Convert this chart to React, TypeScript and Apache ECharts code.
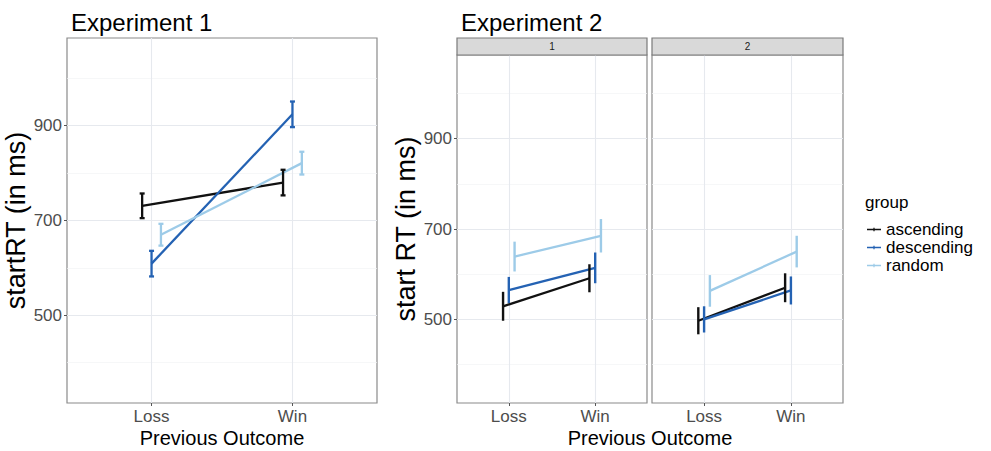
import React, { useEffect, useRef } from "react";
import * as echarts from "echarts";

// Categories and groups
const outcomes = ["Loss", "Win"];
const groups = ["ascending", "descending", "random"];
const groupColors = ["#111111", "#2462b3", "#9dcbe8"];

// Axis ticks (ms)
const yMajor = [500, 700, 900];
const yMinor = [400, 600, 800, 1000];

// Experiment 1: mean start RT and standard error, [Loss, Win]
const exp1AscendingMean = [731, 780];
const exp1AscendingSe = [26, 27];
const exp1DescendingMean = [609, 924];
const exp1DescendingSe = [27, 27];
const exp1RandomMean = [670, 821];
const exp1RandomSe = [23, 24];

// Experiment 2, facet 1
const exp2f1AscendingMean = [529, 591];
const exp2f1AscendingSe = [32, 31];
const exp2f1DescendingMean = [565, 614];
const exp2f1DescendingSe = [29, 34];
const exp2f1RandomMean = [639, 685];
const exp2f1RandomSe = [33, 37];

// Experiment 2, facet 2
const exp2f2AscendingMean = [497, 570];
const exp2f2AscendingSe = [30, 32];
const exp2f2DescendingMean = [500, 564];
const exp2f2DescendingSe = [29, 31];
const exp2f2RandomMean = [563, 650];
const exp2f2RandomSe = [35, 35];

const FONT = "Liberation Sans";
const Y_MIN = 315;
const Y_MAX = 1085;
const DODGE = 0.2;

type Panel = {
  means: number[][];
  ses: number[][];
  grid: { left: number; top: number; width: number; height: number };
  caps: boolean;
  showYLabels: boolean;
  yName: string;
};

const panels: Panel[] = [
  {
    means: [exp1AscendingMean, exp1DescendingMean, exp1RandomMean],
    ses: [exp1AscendingSe, exp1DescendingSe, exp1RandomSe],
    grid: { left: 67, top: 38, width: 310, height: 365 },
    caps: true,
    showYLabels: true,
    yName: "startRT (in ms)",
  },
  {
    means: [exp2f1AscendingMean, exp2f1DescendingMean, exp2f1RandomMean],
    ses: [exp2f1AscendingSe, exp2f1DescendingSe, exp2f1RandomSe],
    grid: { left: 457, top: 55, width: 190, height: 348 },
    caps: false,
    showYLabels: true,
    yName: "start RT (in ms)",
  },
  {
    means: [exp2f2AscendingMean, exp2f2DescendingMean, exp2f2RandomMean],
    ses: [exp2f2AscendingSe, exp2f2DescendingSe, exp2f2RandomSe],
    grid: { left: 652, top: 55, width: 191, height: 348 },
    caps: false,
    showYLabels: false,
    yName: "",
  },
];

const facetLabels = ["1", "2"];

function dodgeOffset(g: number) {
  return (g - (groups.length - 1) / 2) * (DODGE / groups.length);
}

function errorBarRenderer(color: string, caps: boolean, width: number) {
  return (params: any, api: any) => {
    const x = api.value(0);
    const lo = api.value(1);
    const hi = api.value(2);
    const top = api.coord([x, hi]);
    const bot = api.coord([x, lo]);
    const style = { stroke: color, lineWidth: width };
    const children: any[] = [
      { type: "line", shape: { x1: top[0], y1: top[1], x2: bot[0], y2: bot[1] }, style },
    ];
    if (caps) {
      const c = 2.5;
      children.push(
        { type: "line", shape: { x1: top[0] - c, y1: top[1], x2: top[0] + c, y2: top[1] }, style },
        { type: "line", shape: { x1: bot[0] - c, y1: bot[1], x2: bot[0] + c, y2: bot[1] }, style }
      );
    }
    return { type: "group", children };
  };
}

function buildOption() {
  const grids: any[] = [];
  const xAxes: any[] = [];
  const yAxes: any[] = [];
  const series: any[] = [];

  panels.forEach((p, i) => {
    grids.push({
      ...p.grid,
      show: true,
      backgroundColor: "#ffffff",
      borderColor: "#8a8a8a",
      borderWidth: 1.2,
      containLabel: false,
    });
    xAxes.push({
      type: "value",
      gridIndex: i,
      min: 0.4,
      max: 2.6,
      axisLine: { show: false },
      splitLine: { show: false },
      axisTick: { show: true, customValues: [1, 2], length: 3, lineStyle: { color: "#555" } },
      axisLabel: {
        customValues: [1, 2],
        formatter: (v: number) => outcomes[Math.round(v) - 1] ?? "",
        fontFamily: FONT,
        fontSize: 17,
        color: "#4d4d4d",
        margin: 5,
      },
    });
    yAxes.push({
      type: "value",
      gridIndex: i,
      min: Y_MIN,
      max: Y_MAX,
      axisLine: { show: false },
      splitLine: { show: false },
      axisTick: {
        show: p.showYLabels,
        customValues: yMajor,
        length: 3,
        lineStyle: { color: "#555" },
      },
      axisLabel: {
        show: p.showYLabels,
        customValues: yMajor,
        fontFamily: FONT,
        fontSize: 17,
        color: "#4d4d4d",
        margin: 5,
      },
      name: p.yName,
      nameLocation: "middle",
      nameRotate: 90,
      nameGap: 33,
      nameTextStyle: { fontFamily: FONT, fontSize: 27, color: "#000" },
    });

    // panel grid lines
    const minorStyle = { color: "#f2f3f5", width: 0.7, type: "solid" };
    const majorStyle = { color: "#e6e9ee", width: 1.1, type: "solid" };
    series.push({
      type: "line",
      xAxisIndex: i,
      yAxisIndex: i,
      data: [],
      silent: true,
      z: 0,
      markLine: {
        silent: true,
        z: 1,
        symbol: ["none", "none"],
        label: { show: false },
        emphasis: { disabled: true },
        data: [
          ...yMinor.map((v) => ({ yAxis: v, lineStyle: minorStyle })),
          ...yMajor.map((v) => ({ yAxis: v, lineStyle: majorStyle })),
          ...[1, 2].map((v) => ({ xAxis: v, lineStyle: majorStyle })),
        ],
      },
    });

    groups.forEach((g, gi) => {
      const off = dodgeOffset(gi);
      const color = groupColors[gi];
      series.push({
        name: g,
        type: "line",
        xAxisIndex: i,
        yAxisIndex: i,
        data: p.means[gi].map((m, k) => [k + 1 + off, m]),
        showSymbol: false,
        symbol: "none",
        lineStyle: { color, width: 2.3 },
        itemStyle: { color },
        z: 2,
      });
    });
    groups.forEach((g, gi) => {
      const off = dodgeOffset(gi);
      const color = groupColors[gi];
      series.push({
        name: g,
        type: "custom",
        xAxisIndex: i,
        yAxisIndex: i,
        data: p.means[gi].map((m, k) => [k + 1 + off, m - p.ses[gi][k], m + p.ses[gi][k]]),
        encode: { x: 0, y: [1, 2] },
        renderItem: errorBarRenderer(color, p.caps, p.caps ? 2.3 : 2.4),
        itemStyle: { color },
        z: 3,
      });
    });
  });

  // facet strips for experiment 2
  const strips: any[] = [];
  panels.slice(1).forEach((p, k) => {
    strips.push({
      type: "rect",
      shape: { x: p.grid.left, y: 38, width: p.grid.width, height: 17 },
      style: { fill: "#d9d9d9", stroke: "#7a7a7a", lineWidth: 1.2 },
      z: 10,
    });
    strips.push({
      type: "text",
      x: p.grid.left + p.grid.width / 2,
      y: 46.5,
      style: {
        text: facetLabels[k],
        fontFamily: FONT,
        fontSize: 10,
        fill: "#1a1a1a",
        align: "center",
        verticalAlign: "middle",
      },
      z: 11,
    });
  });

  const xTitleStyle = {
    fontFamily: FONT,
    fontSize: 20,
    fill: "#000",
    align: "center",
    verticalAlign: "middle",
  };
  const exp1Center = panels[0].grid.left + panels[0].grid.width / 2;
  const exp2Center =
    (panels[1].grid.left + panels[2].grid.left + panels[2].grid.width) / 2;

  return {
    animation: false,
    backgroundColor: "#ffffff",
    title: [
      {
        text: "Experiment 1",
        left: 66,
        top: 5,
        textStyle: { fontFamily: FONT, fontSize: 24, fontWeight: "normal", color: "#000" },
      },
      {
        text: "Experiment 2",
        left: 456,
        top: 5,
        textStyle: { fontFamily: FONT, fontSize: 24, fontWeight: "normal", color: "#000" },
      },
      {
        text: "group",
        left: 860,
        top: 189,
        textStyle: { fontFamily: FONT, fontSize: 17, fontWeight: "normal", color: "#000" },
      },
    ],
    legend: {
      orient: "vertical",
      left: 862,
      top: 216,
      itemWidth: 14,
      itemHeight: 8,
      itemGap: 1,
      selectedMode: false,
      data: groups.map((g) => ({
        name: g,
        icon: "path://M0,4.2H16V5.8H0Z M7.3,3H8.7V7H7.3Z",
      })),
      textStyle: { fontFamily: FONT, fontSize: 17, lineHeight: 17, color: "#000" },
    },
    grid: grids,
    xAxis: xAxes,
    yAxis: yAxes,
    series,
    graphic: [
      ...strips,
      { type: "text", x: exp1Center, y: 438, style: { text: "Previous Outcome", ...xTitleStyle } },
      { type: "text", x: exp2Center, y: 438, style: { text: "Previous Outcome", ...xTitleStyle } },
    ],
  };
}

export default function App() {
  const ref = useRef<HTMLDivElement>(null);
  useEffect(() => {
    if (!ref.current) return;
    const chart = echarts.init(ref.current, undefined, { renderer: "svg" });
    chart.setOption(buildOption() as any);
    return () => chart.dispose();
  }, []);
  return (
    <div
      ref={ref}
      style={{ position: "fixed", left: 0, top: 0, width: 991, height: 451, background: "#fff" }}
    />
  );
}
